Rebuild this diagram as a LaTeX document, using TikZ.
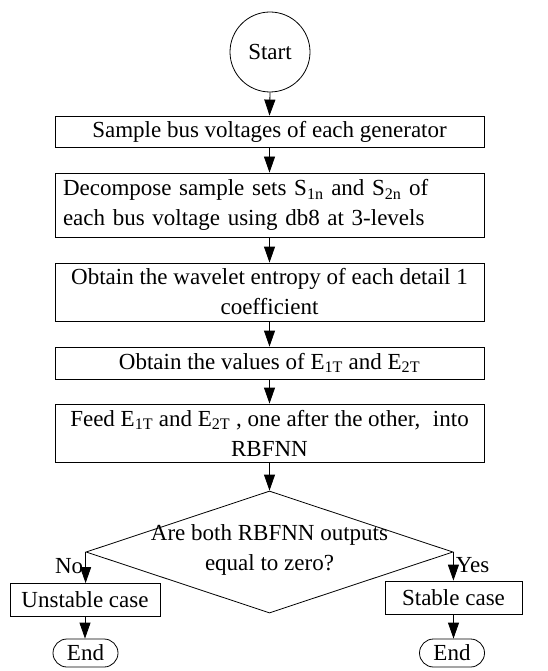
\documentclass[tikz,border=0pt]{standalone}
\usepackage{fontspec}
\setmainfont{Liberation Serif}
\usetikzlibrary{shapes.geometric}
\usetikzlibrary{shapes.misc}
\usetikzlibrary{arrows.meta}
\tikzstyle{block}=[draw, line width=0.8pt, inner sep=2pt, font=\fontsize{23}{30}\selectfont]
\tikzstyle{stepbox}=[block, minimum width=429pt, align=center]
\tikzstyle{casebox}=[block, minimum height=33pt, inner xsep=4pt]
\tikzstyle{endterm}=[block, rounded rectangle, minimum width=65pt, minimum height=28pt, inner sep=0pt]
\tikzstyle{flow}=[line width=0.8pt, -{Triangle[width=11pt,length=16pt]}]

\begin{document}
\begin{tikzpicture}[x=1pt, y=-1pt]
        \useasboundingbox (0,0) rectangle (548,671);
        \node[block, circle, minimum size=80pt, inner sep=0pt] (start) at (270, 52) {Start};
        \node[stepbox, minimum height=31pt] (sample) at (269.5, 131.5) {Sample bus voltages of each generator};
        \node[stepbox, minimum height=64pt, text width=413pt, align=left] (decomp) at (269.5, 205) {Decompose sample sets S\textsubscript{1n} and S\textsubscript{2n} of\\each bus voltage using db8 at 3-levels};
        \node[stepbox, minimum height=58pt] (entropy) at (269.5, 292) {Obtain the wavelet entropy of each detail 1\\coefficient};
        \node[stepbox, minimum height=32pt] (values) at (269.5, 363) {Obtain the values of E\textsubscript{1T} and E\textsubscript{2T}};
        \node[stepbox, minimum height=58pt] (feed) at (269.5, 433) {Feed E\textsubscript{1T} and E\textsubscript{2T} , one after the other,\hspace{0.3em} into\\RBFNN};
        \node[draw, line width=0.8pt, diamond, minimum width=367pt, minimum height=122pt, inner sep=0pt] (check) at (269.5, 552) {};
        \node[font=\fontsize{23}{30}\selectfont, align=center] (checktext) at (269.5, 550) {Are both RBFNN outputs\\equal to zero?};
        \node[casebox, minimum width=150pt] (unstable) at (85, 600) {Unstable case};
        \node[casebox, minimum width=137pt] (stable) at (453.5, 597.5) {Stable case};
        \node[endterm] (endl) at (85.5, 653) {End};
        \node[endterm] (endr) at (452, 653) {End};
        \draw[flow] (start.south) -- (sample.north);
        \draw[flow] (sample.south) -- (decomp.north);
        \draw[flow] (decomp.south) -- (entropy.north);
        \draw[flow] (entropy.south) -- (values.north);
        \draw[flow] (values.south) -- (feed.north);
        \draw[flow] (feed.south) -- (check.north);
        \draw[flow] (check.west) -- node[left, font=\fontsize{23}{30}\selectfont, inner sep=2pt, pos=0.45] (nolabel) {No} (check.west |- unstable.north);
        \draw[flow] (check.east) -- node[right, font=\fontsize{23}{30}\selectfont, inner sep=2pt, pos=0.45] (yeslabel) {Yes} (check.east |- stable.north);
        \draw[flow] (unstable.south) -- (unstable.south |- endl.north);
        \draw[flow] (stable.south) -- (stable.south |- endr.north);
    \end{tikzpicture}
\end{document}
